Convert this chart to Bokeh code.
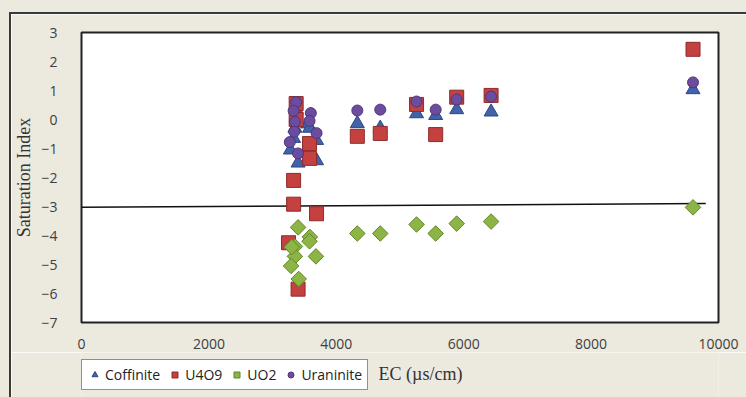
import numpy as np
from bokeh.plotting import figure
from bokeh.layouts import column
from bokeh.models import Legend, LegendItem, Label, FixedTicker, Range1d
from bokeh.embed import file_html
from bokeh.resources import INLINE

# ---- data ----
coffinite_x = [3370, 3550, 3350, 3330, 3280, 3690, 3400, 3690, 3580,
               4330, 4690, 5260, 5560, 5890, 6430, 9600]
coffinite_y = [0.35, -0.15, -0.30, -0.65, -1.05, -0.72, -1.50, -1.42, -0.30,
               -0.14, -0.30, 0.20, 0.14, 0.34, 0.26, 1.03]

u4o9_x = [3370, 3370, 3580, 3580, 3330, 3330, 3690, 3250, 3400,
          4330, 4690, 5260, 5560, 5890, 6430, 9600]
u4o9_y = [0.55, 0.00, -0.83, -1.34, -2.10, -2.92, -3.25, -4.25, -5.85,
          -0.58, -0.48, 0.52, -0.52, 0.77, 0.83, 2.42]

uo2_x = [3400, 3585, 3580, 3350, 3350, 3680, 3290, 3410, 3300,
         4330, 4690, 5260, 5560, 5890, 6430, 9600]
uo2_y = [-3.72, -4.05, -4.20, -4.38, -4.72, -4.72, -5.05, -5.50, -4.40,
         -3.93, -3.93, -3.62, -3.93, -3.59, -3.52, -3.03]

uraninite_x = [3370, 3600, 3580, 3350, 3340, 3690, 3270, 3400, 3330,
               4330, 4690, 5260, 5560, 5890, 6430, 9600]
uraninite_y = [0.60, 0.22, -0.05, -0.08, -0.42, -0.47, -0.78, -1.17, 0.30,
               0.31, 0.34, 0.62, 0.34, 0.69, 0.79, 1.28]

ref_line_x = [0, 9800]
ref_line_y = [-3.03, -2.90]

series_names = ["Coffinite", "U4O9", "UO2", "Uraninite"]
x_ticks = [0, 2000, 4000, 6000, 8000, 10000]
y_ticks = [-7, -6, -5, -4, -3, -2, -1, 0, 1, 2, 3]

BG = "#ECE9DF"
OX, OY = 11, 14          # page offset of the chart content (inside outer border)
W = 746 - OX
H_MAIN, H_FOOT = 352 - OY, 45
FL, FR = 81, 718         # plot frame left/right in page pixels

STYLES = [
    dict(marker="triangle", size=14, fill_color="#4262AB", line_color="#2E4680", line_width=1),
    dict(marker="square", size=14, fill_color="#C4413F", line_color="#8E2B2A", line_width=1),
    dict(marker="square", angle=np.pi / 4, size=11, fill_color="#8DB546", line_color="#62862C", line_width=1),
    dict(marker="circle", size=11, fill_color="#6C4C9E", line_color="#4F367A", line_width=1),
]
data = [(coffinite_x, coffinite_y), (u4o9_x, u4o9_y),
        (uo2_x, uo2_y), (uraninite_x, uraninite_y)]

# ---------------- main chart ----------------
p = figure(width=W, height=H_MAIN, x_range=(0, 10000), y_range=(-7, 3),
           output_backend="svg", toolbar_location=None,
           min_border_left=FL - OX, min_border_top=32 - OY,
           min_border_right=746 - FR, min_border_bottom=30)
p.background_fill_color = "white"
p.border_fill_color = BG
p.outline_line_color = "#222222"
p.outline_line_width = 2
p.grid.visible = False

for ax in (p.xaxis[0], p.yaxis[0]):
    ax.axis_line_color = None
    ax.major_tick_line_color = None
    ax.minor_tick_line_color = None
    ax.major_label_text_font = "Open Sans"
    ax.major_label_text_font_size = "14px"
    ax.major_label_text_color = "#404040"

p.xaxis.ticker = FixedTicker(ticks=x_ticks)
p.yaxis.ticker = FixedTicker(ticks=y_ticks)
p.xaxis.major_label_standoff = 10
p.yaxis.major_label_standoff = 18

p.yaxis.axis_label = "Saturation Index"
p.yaxis.axis_label_text_font = "Liberation Serif"
p.yaxis.axis_label_text_font_style = "normal"
p.yaxis.axis_label_text_font_size = "18px"
p.yaxis.axis_label_text_color = "#333333"
p.yaxis.axis_label_standoff = 4

p.line(ref_line_x, ref_line_y, line_color="#111111", line_width=1.5)

for (xs, ys), st in zip(data, STYLES):
    p.scatter(xs, ys, **st)

# ---------------- footer: legend + x title ----------------
f = figure(width=W, height=H_FOOT, x_range=Range1d(FL, FR), y_range=Range1d(H_FOOT, 0),
           output_backend="svg", toolbar_location=None,
           x_axis_location=None, y_axis_location=None,
           min_border_left=FL - OX, min_border_right=746 - FR,
           min_border_top=0, min_border_bottom=0)
f.background_fill_color = BG
f.border_fill_color = BG
f.outline_line_color = None
f.grid.visible = False

# same series (all outside this strip's visible range) give the legend its glyphs
legend_rs = [f.scatter(xs, ys, **st) for (xs, ys), st in zip(data, STYLES)]
legend = Legend(items=[LegendItem(label=n, renderers=[r])
                       for n, r in zip(series_names, legend_rs)],
                orientation="horizontal", location=(0, 7))
legend.label_text_font = "Open Sans"
legend.label_text_font_size = "14px"
legend.label_text_color = "#222222"
legend.glyph_width = 15
legend.glyph_height = 17
legend.label_height = 17
legend.label_standoff = 3
legend.spacing = 7
legend.padding = 5
legend.margin = 0
legend.border_line_color = "#222222"
legend.border_line_width = 1
legend.background_fill_color = "white"
legend.background_fill_alpha = 1
f.add_layout(legend, "center")

f.add_layout(Label(x=420, y=21, text="EC (µs/cm)", text_align="center",
                   text_baseline="alphabetic", text_font="Liberation Serif",
                   text_font_size="18px", text_color="#333333"))

page = column(p, f, spacing=0, styles={
    "margin-left": "9px", "margin-top": "12px",
    "border-left": "2px solid #3a3a3a", "border-top": "2px solid #3a3a3a",
    "outline": "12px solid " + BG,
})

open("out.html", "w").write(file_html(page, INLINE))
